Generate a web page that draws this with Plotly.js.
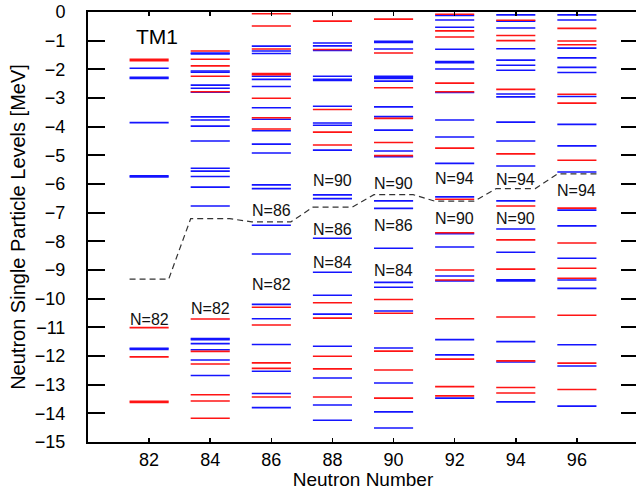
<!DOCTYPE html>
<html><head><meta charset="utf-8">
<script src="https://cdn.plot.ly/plotly-3.0.1.min.js"></script>
<style>html,body{margin:0;padding:0;overflow:hidden;background:#fff}#c{width:642px;height:490px}</style>
</head><body><div id="c"></div>
<script>
// Neutron numbers (columns)
const neutronN = [82, 84, 86, 88, 90, 92, 94, 96];
// Red levels per column (MeV)
const red82 = [-1.65, -1.70, -11.01, -12.03, -13.58, -13.62];
const red84 = [-1.36, -1.65, -1.88, -2.24, -2.78, -10.71, -11.84, -12.28, -13.35, -13.57, -14.17];
const red86 = [-0.06, -0.49, -1.29, -2.15, -2.19, -3.01, -3.69, -4.08, -10.30, -10.92, -12.24, -12.43, -13.43];
const red88 = [-0.32, -1.31, -3.40, -4.19, -4.64, -10.14, -10.68, -12.01, -12.45, -13.43];
const red90 = [-0.25, -1.43, -2.64, -3.71, -4.55, -5.01, -10.03, -10.51, -11.83, -12.49, -13.47];
const red92 = [-0.08, -0.66, -0.87, -2.48, -2.78, -4.75, -6.53, -7.70, -9.00, -9.35, -10.70, -12.11, -13.07, -13.39];
const red94 = [-0.29, -0.82, -1.00, -2.70, -4.95, -6.77, -7.95, -8.97, -10.64, -12.17, -13.10, -13.29];
const red96 = [-0.57, -1.01, -1.14, -2.87, -3.18, -5.17, -6.84, -8.06, -8.94, -9.29, -10.58, -12.25, -13.17];
// Blue levels per column (MeV)
const blue82 = [-1.96, -2.28, -2.32, -3.86, -5.71, -5.75, -11.73, -11.77];
const blue84 = [-1.43, -1.46, -2.06, -2.10, -2.55, -2.66, -2.80, -3.66, -3.77, -3.98, -4.50, -5.45, -5.55, -5.74, -6.11, -6.77, -11.39, -11.43, -11.57, -11.78, -12.14, -12.68];
const blue86 = [-1.19, -1.36, -1.45, -2.24, -2.35, -2.60, -3.34, -3.74, -4.14, -4.61, -4.92, -6.03, -6.16, -7.44, -8.44, -10.20, -10.70, -11.60, -12.53, -13.31, -13.80];
const blue88 = [-1.08, -1.18, -1.34, -2.24, -2.35, -2.39, -3.29, -3.87, -3.95, -4.82, -6.38, -6.51, -7.89, -9.08, -9.88, -10.54, -11.66, -12.77, -13.71, -14.24];
const blue90 = [-1.02, -1.06, -1.29, -2.24, -2.28, -2.32, -2.41, -3.31, -3.65, -4.12, -4.85, -5.05, -6.59, -6.85, -8.24, -9.43, -9.60, -10.43, -11.72, -12.94, -13.95, -14.51];
const blue92 = [-0.12, -0.28, -0.53, -1.30, -1.73, -1.77, -1.99, -2.81, -3.77, -4.36, -5.28, -6.45, -7.73, -8.20, -9.21, -9.38, -11.43, -11.96, -13.47];
const blue94 = [-0.10, -0.32, -0.56, -1.28, -1.68, -1.86, -2.03, -2.86, -2.96, -3.84, -4.50, -5.37, -6.59, -7.57, -8.38, -9.34, -9.38, -11.50, -12.21, -13.60];
const blue96 = [-0.10, -0.28, -1.26, -1.60, -1.93, -2.11, -2.95, -3.92, -4.67, -5.58, -6.91, -7.46, -8.59, -9.35, -9.64, -11.61, -12.35, -13.75];
// Fermi level (dashed)
const fermi = [-9.32, -7.21, -7.32, -6.81, -6.37, -6.60, -6.16, -5.65];
// Shell-gap labels
const labelText = ["N=82", "N=82", "N=86", "N=82", "N=90", "N=86", "N=84", "N=90", "N=86", "N=84", "N=94", "N=90", "N=94", "N=90", "N=94"];
const labelN    = [82, 84, 86, 86, 88, 88, 88, 90, 90, 90, 92, 92, 94, 94, 96];
const labelE    = [-10.72, -10.35, -6.91, -9.52, -5.89, -7.58, -8.74, -5.99, -7.46, -9.00, -5.80, -7.20, -5.85, -7.21, -6.24];
const xTicks = [82, 84, 86, 88, 90, 92, 94, 96];

const redLevels = [red82, red84, red86, red88, red90, red92, red94, red96];
const blueLevels = [blue82, blue84, blue86, blue88, blue90, blue92, blue94, blue96];
const HW = 0.64;

function segs(levels) {
  const x = [], y = [];
  neutronN.forEach((n, i) => {
    levels[i].forEach(e => { x.push(n - HW, n + HW, null); y.push(e, e, null); });
  });
  return {x, y};
}
const b = segs(blueLevels), r = segs(redLevels);
const fx = [], fy = [];
neutronN.forEach((n, i) => { fx.push(n - HW, n + HW); fy.push(fermi[i], fermi[i]); });

const traces = [
  {x: fx, y: fy, mode: 'lines', line: {color: '#333', width: 1.2, dash: '6px,4px'}, hoverinfo: 'skip'},
  {x: b.x, y: b.y, mode: 'lines', line: {color: 'rgb(20,20,255)', width: 1.6}, connectgaps: false, hoverinfo: 'skip'},
  {x: r.x, y: r.y, mode: 'lines', line: {color: 'rgb(255,20,20)', width: 1.6}, connectgaps: false, hoverinfo: 'skip'}
];

const annotations = labelText.map((t, i) => ({
  x: labelN[i], y: labelE[i], text: t, showarrow: false, xanchor: 'center', yanchor: 'middle',
  font: {family: 'Liberation Sans, Arial', size: 16, color: '#111'}
}));
annotations.push({x: 82.25, y: -0.85, text: 'TM1', showarrow: false, xanchor: 'center', yanchor: 'middle',
  font: {family: 'Liberation Sans, Arial', size: 21, color: '#000'}});

const layout = {
  width: 642, height: 490,
  margin: {l: 88, r: 4, t: 12, b: 48},
  showlegend: false,
  paper_bgcolor: '#fff', plot_bgcolor: '#fff',
  font: {family: 'Liberation Sans, Arial', size: 17, color: '#000'},
  xaxis: {
    range: [80, 98], tickvals: xTicks, ticktext: xTicks.map(String),
    ticks: 'inside', ticklen: 4, tickwidth: 1.5, tickcolor: '#000',
    showline: true, linewidth: 2, linecolor: '#000', mirror: 'ticks',
    showgrid: false, zeroline: false,
    tickfont: {size: 18},
    title: {text: 'Neutron Number', font: {size: 19}, standoff: 1}
  },
  yaxis: {
    range: [-15, 0], dtick: 1, tick0: 0,
    ticks: 'inside', ticklen: 17, tickwidth: 2, tickcolor: '#000',
    showline: true, linewidth: 2, linecolor: '#000', mirror: 'ticks',
    showgrid: false, zeroline: false,
    tickfont: {size: 18}, ticklabelstandoff: 17,
    title: {text: 'Neutron Single Particle Levels [MeV]', font: {size: 20}, standoff: 4}
  },
  annotations: annotations
};
Plotly.newPlot('c', traces, layout, {staticPlot: true, displayModeBar: false});
</script></body></html>
